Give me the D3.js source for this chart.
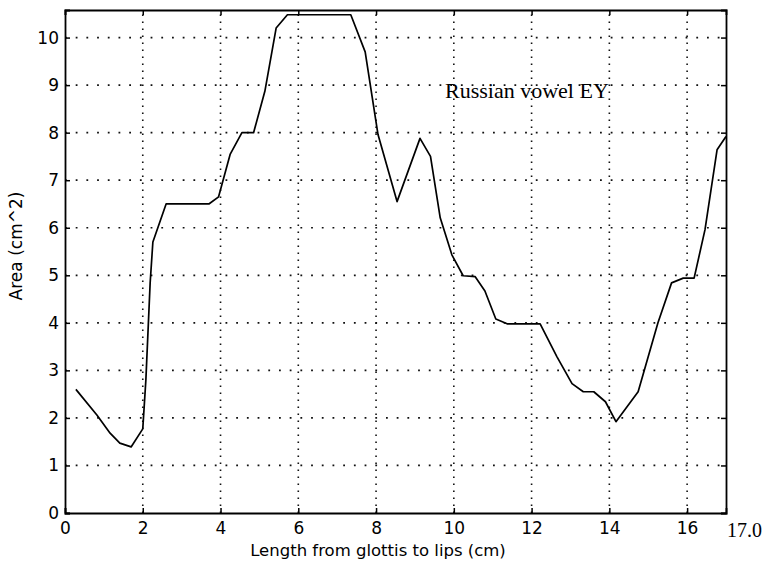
<!DOCTYPE html>
<html><head><meta charset="utf-8">
<script src="https://cdn.jsdelivr.net/npm/d3@7"></script>
<style>
html,body{margin:0;padding:0;background:#fff;}
svg{display:block;}
</style></head>
<body>
<svg id="chart" width="764" height="562"></svg>
<script>
// Data (vocal-tract area function)
const lengthCm = [0.28,0.82,1.16,1.41,1.70,2.0,2.08,2.19,2.26,2.6,3.7,3.95,4.25,4.55,4.85,5.14,5.43,5.72,7.35,7.72,8.05,8.54,9.13,9.40,9.65,9.95,10.24,10.55,10.8,11.08,11.37,12.22,12.65,13.04,13.33,13.6,13.9,14.17,14.74,15.25,15.6,15.9,16.18,16.46,16.77,17.0];
const areaCm2 = [2.6,2.06,1.68,1.47,1.39,1.77,2.8,4.84,5.7,6.5,6.5,6.65,7.55,8.0,8.0,8.87,10.2,10.48,10.48,9.7,7.96,6.55,7.88,7.5,6.21,5.43,4.99,4.97,4.67,4.08,3.98,3.98,3.29,2.72,2.55,2.55,2.34,1.92,2.55,4.0,4.84,4.94,4.94,5.96,7.64,7.92];
const xTicks = [0,2,4,6,8,10,12,14,16];
const yTicks = [0,1,2,3,4,5,6,7,8,9,10];
const titleText = "Russian vowel EY";
const xLabelText = "Length from glottis to lips (cm)";
const yLabelText = "Area (cm^2)";
const endLabel = "17.0";

const svg = d3.select("#chart");
const L = 65, R = 726, T = 10, B = 513;
const x = d3.scaleLinear().domain([0,17]).range([L,R]);
const y = d3.scaleLinear().domain([0,10.58]).range([B,T]);

const tickFont = "'DejaVu Sans', sans-serif";

// grid
const grid = svg.append("g");
grid.selectAll("line.h").data(yTicks.filter(d=>d>0)).join("line")
  .attr("x1",L).attr("x2",R).attr("y1",d=>y(d)).attr("y2",d=>y(d))
  .attr("stroke","#111").attr("stroke-width",1.7).attr("stroke-dasharray","1.8,8.9");
grid.selectAll("line.v").data(xTicks.filter(d=>d>0)).join("line")
  .attr("y1",B).attr("y2",T).attr("x1",d=>x(d)).attr("x2",d=>x(d))
  .attr("stroke","#111").attr("stroke-width",1.6).attr("stroke-dasharray","1.6,5.4");

// axes (ticks inward)
const axB = svg.append("g").attr("transform",`translate(0,${B})`)
  .call(d3.axisBottom(x).tickValues(xTicks).tickSize(-5).tickPadding(9).tickFormat(d3.format("d")));
const axL = svg.append("g").attr("transform",`translate(${L},0)`)
  .call(d3.axisLeft(y).tickValues(yTicks).tickSize(-5).tickPadding(6).tickFormat(d3.format("d")));
const axT = svg.append("g").attr("transform",`translate(0,${T})`)
  .call(d3.axisTop(x).tickValues(xTicks).tickSize(-5).tickFormat(""));
const axR = svg.append("g").attr("transform",`translate(${R},0)`)
  .call(d3.axisRight(y).tickValues(yTicks).tickSize(-5).tickFormat(""));
[axB,axL,axT,axR].forEach(g=>{
  g.select(".domain").attr("stroke","#000").attr("stroke-width",1.8);
  g.selectAll(".tick line").attr("stroke","#000").attr("stroke-width",1.5);
  g.selectAll(".tick text").attr("fill","#000").style("font-family",tickFont).style("font-size","17px");
});

// data line
svg.append("path")
  .datum(lengthCm.map((d,i)=>[d,areaCm2[i]]))
  .attr("fill","none").attr("stroke","#000").attr("stroke-width",1.7)
  .attr("stroke-linejoin","round")
  .attr("d", d3.line().x(d=>x(d[0])).y(d=>y(d[1])));

// annotation text
svg.append("text").attr("x",445).attr("y",98)
  .style("font-family","'Liberation Serif', serif").style("font-size","22px")
  .attr("fill","#000").text(titleText);

svg.append("text").attr("x",x(17)+1).attr("y",537)
  .style("font-family","'Liberation Serif', serif").style("font-size","20px")
  .attr("fill","#000").text(endLabel);

// axis labels
svg.append("text").attr("x",378).attr("y",556).attr("text-anchor","middle")
  .style("font-family",tickFont).style("font-size","16.5px").attr("fill","#000").text(xLabelText);
svg.append("text").attr("transform","translate(22,246) rotate(-90)").attr("text-anchor","middle")
  .style("font-family",tickFont).style("font-size","17px").attr("fill","#000").text(yLabelText);
</script>
</body></html>
